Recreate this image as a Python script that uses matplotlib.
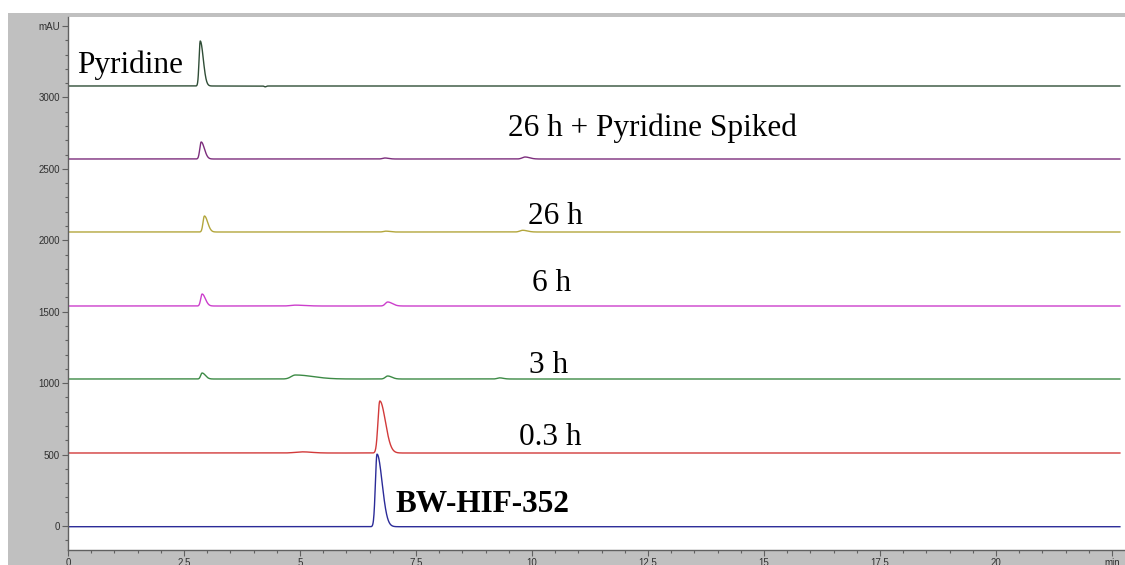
import matplotlib.pyplot as plt
import numpy as np
from matplotlib.patches import Rectangle
from matplotlib.ticker import MultipleLocator, FixedLocator, FixedFormatter

# retention time grid (min)
T_END = 22.67

# one entry per run, bottom to top
RUNS = ["BW-HIF-352", "0.3 h", "3 h", "6 h", "26 h", "26 h + Pyridine Spiked", "Pyridine"]
BASELINES = [-5, 511, 1029, 1540, 2058, 2569, 3080]
COLORS = ["#2b2b98", "#d23a3a", "#3c8a45", "#cc3fcc", "#b3a63c", "#7c2d7c", "#2f4d36"]

# peaks per run: (retention time, height mAU, left width, right width)
PEAKS = {
    "BW-HIF-352": [(6.66, 508, 0.035, 0.11)],
    "0.3 h": [(6.72, 364, 0.04, 0.12), (5.05, 8, 0.15, 0.2)],
    "3 h": [(2.89, 42, 0.03, 0.07), (4.90, 28, 0.09, 0.38),
            (6.89, 21, 0.05, 0.09), (9.30, 8, 0.05, 0.08)],
    "6 h": [(2.89, 84, 0.03, 0.07), (4.90, 6, 0.1, 0.2), (6.89, 28, 0.05, 0.1)],
    "26 h": [(2.94, 112, 0.03, 0.07), (6.85, 6, 0.05, 0.08), (9.80, 12, 0.06, 0.1)],
    "26 h + Pyridine Spiked": [(2.87, 119, 0.03, 0.07), (6.83, 7, 0.05, 0.08),
                               (9.85, 14, 0.06, 0.1)],
    "Pyridine": [(2.85, 315, 0.025, 0.065), (4.25, -6, 0.02, 0.02)],
}

# label text position (min, mAU)
LABEL_POS = {
    "BW-HIF-352": (7.05, 98),
    "0.3 h": (9.72, 567),
    "3 h": (9.94, 1071),
    "6 h": (10.0, 1645),
    "26 h": (9.91, 2114),
    "26 h + Pyridine Spiked": (9.48, 2730),
    "Pyridine": (0.19, 3171),
}

X_TICKS = [0, 2.5, 5, 7.5, 10, 12.5, 15, 17.5, 20, 22.5]
X_TICK_LABELS = ["0", "2.5", "5", "7.5", "10", "12.5", "15", "17.5", "20", "min"]
Y_TICKS = [0, 500, 1000, 1500, 2000, 2500, 3000, 3500]
Y_TICK_LABELS = ["0", "500", "1000", "1500", "2000", "2500", "3000", "mAU"]


def peak(t, rt, h, wl, wr):
    w = np.where(t < rt, wl, wr)
    return h * np.exp(-0.5 * ((t - rt) / w) ** 2)


W, H = 1125, 565
fig = plt.figure(figsize=(W / 100, H / 100), dpi=100)
fig.patch.set_facecolor("white")

# grey instrument frame around the plot area
fig.add_artist(Rectangle((8 / W, 0), 1 - 8 / W, (H - 13) / H,
                         transform=fig.transFigure, facecolor="#c0c0c0",
                         edgecolor="none", zorder=0))

ax = fig.add_axes([68 / W, (H - 550) / H, (W - 68) / W, (550 - 17) / H])
ax.set_facecolor("white")

t = np.linspace(0, T_END, 6000)
for name, base, color in zip(RUNS, BASELINES, COLORS):
    y = np.full_like(t, base, dtype=float)
    for rt, h, wl, wr in PEAKS[name]:
        y += peak(t, rt, h, wl, wr)
    ax.plot(t, y, color=color, lw=1.0)

    lx, ly = LABEL_POS[name]
    ax.text(lx, ly, name, fontsize=22.5, family="Liberation Serif",
            fontweight="bold" if name == "BW-HIF-352" else "normal",
            ha="left", va="baseline", color="black")

ax.set_xlim(0, (W - 68) / 46.4)
ax.set_ylim(-168, 3563)

ax.xaxis.set_major_locator(FixedLocator(X_TICKS))
ax.xaxis.set_major_formatter(FixedFormatter(X_TICK_LABELS))
ax.xaxis.set_minor_locator(MultipleLocator(0.5))
ax.yaxis.set_major_locator(FixedLocator(Y_TICKS))
ax.yaxis.set_major_formatter(FixedFormatter(Y_TICK_LABELS))
ax.yaxis.set_minor_locator(MultipleLocator(100))

for side in ["top", "right"]:
    ax.spines[side].set_visible(False)
for side in ["left", "bottom"]:
    ax.spines[side].set_color("#606060")
    ax.spines[side].set_linewidth(1.0)

ax.tick_params(which="major", length=4.3, width=0.8, color="#606060",
               labelsize=7, labelcolor="#303030", pad=1.5)
ax.tick_params(which="minor", length=2.2, width=0.8, color="#606060")
for lab in ax.get_xticklabels() + ax.get_yticklabels():
    lab.set_family("Liberation Sans")

fig.savefig("out.png", dpi=100, facecolor=fig.get_facecolor())
